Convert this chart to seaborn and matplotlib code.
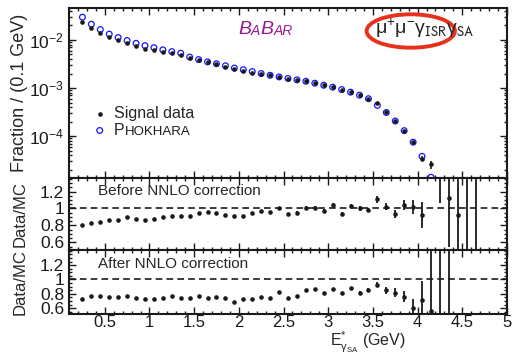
import numpy as np
import matplotlib
matplotlib.use("Agg")
import matplotlib.pyplot as plt
from matplotlib.patches import Ellipse
from matplotlib.ticker import MultipleLocator, FixedLocator, FuncFormatter, LogLocator, NullFormatter
import seaborn as sns

# bin centres, 0.1 GeV bins
e_main = [0.25, 0.35, 0.45, 0.55, 0.65, 0.75, 0.85, 0.95, 1.05, 1.15,
          1.25, 1.35, 1.45, 1.55, 1.65, 1.75, 1.85, 1.95, 2.05, 2.15,
          2.25, 2.35, 2.45, 2.55, 2.65, 2.75, 2.85, 2.95, 3.05, 3.15,
          3.25, 3.35, 3.45, 3.55, 3.65, 3.75, 3.85, 3.95, 4.05, 4.15]
e_ratio = e_main + [4.25, 4.35, 4.45, 4.55, 4.65]

# normalised spectra
data_frac = [0.024, 0.0175, 0.0138, 0.0114, 0.0098, 0.0088, 0.0076, 0.0066, 0.0063, 0.0057,
             0.0053, 0.0049, 0.0042, 0.0038, 0.0034, 0.0031, 0.0028, 0.0025, 0.0023, 0.0021,
             0.0020, 0.00184, 0.0017, 0.00156, 0.00147, 0.00138, 0.00127, 0.00115, 0.00105, 0.00092,
             0.00083, 0.00070, 0.00059, 0.00048, 0.000316, 0.000208, 0.000131, 7.6e-5, 3.4e-5, 2.6e-5]
data_err = [0, 0, 0, 0, 0, 0, 0, 0, 0, 0,
            0, 0, 0, 0, 0, 0, 0, 0, 0, 0,
            0, 0, 0, 0, 0, 0, 0, 0, 0, 0,
            0, 0, 0, 1.5e-5, 1e-5, 7e-6, 5e-6, 4e-6, 4e-6, 5e-6]
mc_frac = [0.0297, 0.0212, 0.0164, 0.0132, 0.0112, 0.0097, 0.0085, 0.0076, 0.0069, 0.0062,
           0.0057, 0.0053, 0.0044, 0.0039, 0.0035, 0.0032, 0.0029, 0.0026, 0.0024, 0.0022,
           0.0020, 0.00184, 0.0017, 0.00158, 0.00148, 0.00138, 0.00126, 0.00114, 0.00104, 0.00093,
           0.00082, 0.00071, 0.00060, 0.000436, 0.00031, 0.000206, 0.00013, 7.5e-5, 3.8e-5, 1.4e-5]

# Data/MC ratios
ratio_before = [0.81, 0.83, 0.84, 0.86, 0.86, 0.90, 0.875, 0.86, 0.88, 0.905,
                0.91, 0.91, 0.915, 0.945, 0.955, 0.945, 0.925, 0.915, 0.915, 0.945,
                0.97, 0.96, 1.0, 0.935, 0.95, 1.01, 1.01, 0.97, 1.045, 0.935,
                1.03, 1.0, 0.98, 1.11, 1.02, 0.935, 1.04, 1.015, 0.925, np.nan,
                1.70, 1.125, 0.925, 1.90, 2.00]
err_before = [0.01, 0.01, 0.01, 0.01, 0.01, 0.01, 0.01, 0.01, 0.01, 0.01,
              0.01, 0.01, 0.01, 0.01, 0.01, 0.01, 0.01, 0.01, 0.01, 0.01,
              0.015, 0.015, 0.015, 0.015, 0.015, 0.015, 0.02, 0.02, 0.02, 0.02,
              0.02, 0.025, 0.025, 0.04, 0.04, 0.05, 0.06, 0.08, 0.15, np.nan,
              0.63, 0.58, 0.60, 1.5, 1.6]
ratio_after = [0.733, 0.765, 0.765, 0.756, 0.75, 0.774, 0.746, 0.724, 0.733, 0.74,
               0.765, 0.746, 0.74, 0.77, 0.746, 0.76, 0.737, 0.69, 0.724, 0.728,
               0.756, 0.746, 0.82, 0.74, 0.765, 0.848, 0.862, 0.807, 0.866, 0.807,
               0.876, 0.816, 0.852, 0.93, 0.848, 0.816, 0.76, 0.61, 0.71, 0.56,
               1.80, 1.90, np.nan, np.nan, np.nan]
err_after = [0.01, 0.01, 0.01, 0.01, 0.01, 0.01, 0.01, 0.01, 0.01, 0.01,
             0.01, 0.01, 0.01, 0.01, 0.01, 0.01, 0.01, 0.01, 0.01, 0.01,
             0.015, 0.015, 0.015, 0.015, 0.015, 0.015, 0.02, 0.02, 0.02, 0.02,
             0.02, 0.025, 0.025, 0.03, 0.05, 0.06, 0.08, 0.12, 0.27, 0.9,
             1.4, 1.5, np.nan, np.nan, np.nan]

sns.set_theme(style="ticks")
plt.rcParams["font.family"] = ["Liberation Sans", "DejaVu Sans"]
plt.rcParams["mathtext.fontset"] = "custom"
plt.rcParams["mathtext.rm"] = "Liberation Sans"
plt.rcParams["mathtext.it"] = "Liberation Sans:italic"
plt.rcParams["mathtext.default"] = "regular"

W_PX, H_PX = 513, 354
fig = plt.figure(figsize=(W_PX / 100, H_PX / 100), dpi=100)
L, W = 69 / W_PX, 438 / W_PX
ax0 = fig.add_axes([L, (H_PX - 178) / H_PX, W, 170 / H_PX])
ax1 = fig.add_axes([L, (H_PX - 250) / H_PX, W, 72 / H_PX], sharex=ax0)
ax2 = fig.add_axes([L, (H_PX - 314) / H_PX, W, 64 / H_PX], sharex=ax0)

# main panel
sns.scatterplot(x=e_main, y=mc_frac, ax=ax0, marker="o", s=17, fc="none",
                ec="#1515ff", linewidth=0.9, label="P", zorder=3)
sns.scatterplot(x=e_main, y=data_frac, ax=ax0, marker="o", s=11, color="k",
                linewidth=0, label="Signal data", zorder=4)
ax0.errorbar(e_main, data_frac, yerr=data_err, fmt="none", ecolor="k", elinewidth=1.2, zorder=4)
ax0.set_yscale("log")
ax0.set_ylim(1.35e-5, 0.046)
ax0.set_xlim(0.1, 5.0)

h, lab = ax0.get_legend_handles_labels()
leg = ax0.legend([h[1], h[0]], [lab[1], lab[0]], loc="center left",
                 bbox_to_anchor=(0.03, 0.33), frameon=False, fontsize=11.5,
                 handlelength=0.8, handletextpad=0.5, labelspacing=0.1, borderpad=0.2)
leg.set_zorder(5)
# small caps tail of the generator name, drawn after the legend
ax0.annotate("HOKHARA", xy=(1, 0), xycoords=leg.get_texts()[1], va="bottom",
             fontsize=9.5, color="k", zorder=10)

# ratio panels
for ax, r, e in ((ax1, ratio_before, err_before), (ax2, ratio_after, err_after)):
    ax.axhline(1, color="k", lw=1.2, ls=(0, (4, 2.5)), zorder=1)
    ax.errorbar(e_ratio, r, yerr=e, fmt="none", ecolor="k", elinewidth=1.3, zorder=3)
    sns.scatterplot(x=e_ratio, y=r, ax=ax, marker="o", s=11, color="k", linewidth=0, zorder=4)
    ax.yaxis.set_major_locator(FixedLocator([0.6, 0.8, 1.0, 1.2]))
    ax.yaxis.set_minor_locator(MultipleLocator(0.05))
    ax.yaxis.set_major_formatter(FuncFormatter(lambda v, p: f"{v:g}"))
    ax.set_ylabel("Data/MC", fontsize=12)
ax1.set_ylim(0.51, 1.36)
ax2.set_ylim(0.52, 1.41)

for ax in (ax0, ax1, ax2):
    ax.tick_params(which="both", direction="in", top=True, right=True, width=1,
                   colors="k", labelsize=12.5)
    ax.tick_params(which="major", length=5)
    ax.tick_params(which="minor", length=2.5)
    for s in ax.spines.values():
        s.set_linewidth(1.5)
        s.set_color("k")
    ax.xaxis.set_major_locator(MultipleLocator(0.5))
    ax.xaxis.set_minor_locator(MultipleLocator(0.1))
    ax.yaxis.set_label_coords(-0.094, 0.5)

ax0.yaxis.set_major_locator(LogLocator(base=10, numticks=10))
ax0.yaxis.set_minor_locator(LogLocator(base=10, subs=np.arange(2, 10), numticks=20))
ax0.yaxis.set_minor_formatter(NullFormatter())
ax0.set_ylabel("Fraction / (0.1 GeV)", fontsize=13)
ax0.yaxis.set_label_coords(-0.094, 0.5)
plt.setp(ax0.get_xticklabels(), visible=False)
plt.setp(ax1.get_xticklabels(), visible=False)
ax2.tick_params(axis="x", which="major", pad=1, labelsize=12)
ax2.xaxis.set_major_formatter(FuncFormatter(lambda v, p: f"{v:g}"))
ax2.set_xlabel(r"E${}^{*}_{\gamma_{\rm SA}}$ (GeV)", fontsize=11.5)
ax2.xaxis.set_label_coords(0.683, -0.25)

# BaBar logo in small caps
purple = "#9a1a8e"
t = fig.text(238 / W_PX, 1 - 38.3 / H_PX, "B", fontsize=14, style="italic", color=purple, va="bottom")
for s, fs in (("A", 10), ("B", 14), ("AR", 10)):
    t = ax0.annotate(s, xy=(1, 0), xycoords=t, va="bottom", fontsize=fs,
                     style="italic", color=purple)

# channel label with highlight ellipse
fig.text(375 / W_PX, 1 - 33.3 / H_PX, r"$\mu^{+}\mu^{-}\gamma_{\mathsf{ISR}}\gamma_{\mathsf{SA}}$",
         fontsize=14, math_fontfamily="stix", va="baseline")
fig.add_artist(Ellipse((410.8 / W_PX, 1 - 31 / H_PX), 88.3 / W_PX, 33.4 / H_PX,
                       transform=fig.transFigure, fill=False, ec="#e8311d", lw=2.8))

fig.text(98 / W_PX, 1 - 195 / H_PX, "Before NNLO correction", fontsize=11, va="baseline")
fig.text(98 / W_PX, 1 - 268.3 / H_PX, "After NNLO correction", fontsize=11, va="baseline")

fig.savefig("out.png", dpi=100)
